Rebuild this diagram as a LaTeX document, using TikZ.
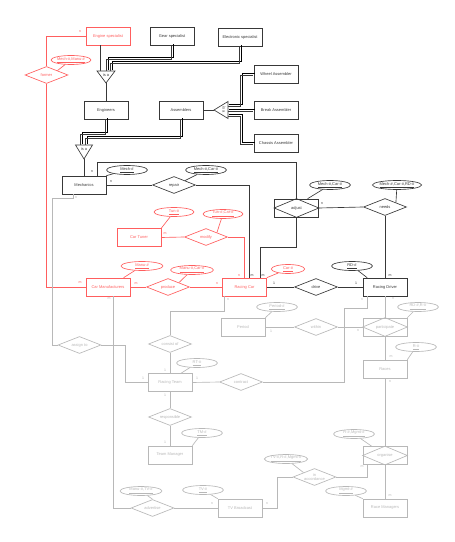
\documentclass[tikz,border=0pt]{standalone}
\usepackage{fontspec}
\setmainfont{Liberation Sans}
\usepackage{tikz}
\usetikzlibrary{shapes.geometric, calc}
\usepackage{xcolor}
\definecolor{errose}{HTML}{FF5E5E}
\definecolor{erink}{HTML}{383838}
\definecolor{erfog}{HTML}{B8B8B8}

\begin{document}
\begin{tikzpicture}[x=0.03cm, y=-0.03cm, line width=0.55pt,
    font=\fontsize{3.4}{4}\selectfont,
    ent/.style={draw, rectangle, fill=white, minimum width=1.32cm, minimum height=0.54cm, inner sep=0pt},
    rel/.style={draw, diamond, aspect=2.5, fill=white, minimum width=1.29cm, minimum height=0.51cm, inner sep=0pt},
    att/.style={draw, ellipse, fill=white, minimum width=1.23cm, minimum height=0.27cm, inner sep=0pt},
    card/.style={font=\fontsize{3}{3}\selectfont, inner sep=0pt},
    dbl/.style={line width=0.45pt,
        preaction={draw, transform canvas={shift={(0.8pt,0.8pt)}}},
        transform canvas={shift={(-0.8pt,-0.8pt)}}},
    hot/.style={draw=errose, text=errose},
    ink/.style={draw=erink, text=erink},
    fog/.style={draw=erfog, text=erfog},
    hotk/.style={card, text=errose},
    inkk/.style={card, text=erink},
    fogk/.style={card, text=erfog}]

    \fill[white] (0,0) rectangle (454,542);
    \useasboundingbox (0,0) rectangle (454,542);

    % specialisation of engineers and assemblers
    \node[ent, hot] (engsp) at (108,36) {Engine specialist};
    \node[ent, ink] (gearsp) at (172,36) {Gear specialist};
    \node[ent, ink] (elecsp) at (240,37) {Electronic specialist};
    \node[ent, ink] (engrs) at (106,110) {Engineers};
    \node[ent, ink] (asm) at (181,110) {Assemblers};
    \node[ent, ink] (wheel) at (276,74.5) {Wheel Assembler};
    \node[ent, ink] (brk) at (276,110) {Break Assembler};
    \node[ent, ink] (chas) at (276,143) {Chassis Assembler};

    \coordinate (isa1) at (106,71);
    \coordinate (isa2) at (228,110);
    \coordinate (isa3) at (84,145);

    \draw[ink] ($(engsp.south)+(-8,0)$) -- ++(0,26);
    \draw[ink, dbl] (gearsp.south) -- ++(0,13) -| ($(isa1)+(1,0)$);
    \draw[ink, dbl] (elecsp.south) -- ++(0,16) -| ($(isa1)+(5,0)$);
    \draw[ink] ($(isa1)+(0,12)$) -- (engrs.north);
    \draw[ink] (asm.east) -- ($(isa2)+(-14,0)$);
    \draw[ink, dbl] ($(isa2)+(0,-5)$) -- ++(13,0) |- (wheel.west);
    \draw[ink, dbl] (isa2) -- (brk.west);
    \draw[ink, dbl] ($(isa2)+(0,5)$) -- ++(13,0) |- (chas.west);
    \draw[ink, dbl] (engrs.south) -- ++(0,14) -| ($(isa3)+(-2.5,0)$);
    \draw[ink, dbl] (asm.south) -- ++(0,18) -| ($(isa3)+(2.5,0)$);

    \draw[ink, fill=white] ($(isa1)+(-9,0)$) -- ($(isa1)+(9,0)$) -- ($(isa1)+(0,12)$) -- cycle;
    \node[text=erink] (isa1t) at ($(isa1)+(0,4)$) {is a};
    \draw[ink, fill=white] ($(isa2)+(0,-8.5)$) -- ($(isa2)+(0,8.5)$) -- ($(isa2)+(-14,0)$) -- cycle;
    \node[text=erink, rotate=-90] (isa2t) at ($(isa2)+(-4,0)$) {is a};
    \draw[ink, fill=white] ($(isa3)+(-8.5,0)$) -- ($(isa3)+(8.5,0)$) -- ($(isa3)+(0,14)$) -- cycle;
    \node[text=erink] (isa3t) at ($(isa3)+(0,4)$) {is a};

    % mechanics and drivers
    \node[ent, ink] (mech) at (84,185) {Mechanics};
    \node[att, ink] (mechid) at (127,170) {\underline{Mech-\#}};
    \node[rel, ink] (repair) at (174,185) {repair};
    \node[att, ink] (repairid) at (206,170) {\underline{Mech-\#,Car-\#}};
    \node[ent, ink] (adj) at (296.5,208) {adjust};
    \draw[ink] (adj.west) -- (adj.north) -- (adj.east) -- (adj.south) -- cycle;
    \node[att, ink] (adjid) at (330,185) {\underline{Mech-\#,Car-\#}};
    \node[rel, ink] (needs) at (385,207) {needs};
    \node[att, ink, minimum width=1.41cm] (needsid) at (397,185) {\underline{Mech-\#,Car-\#,RD-\#}};
    \node[ent, ink] (rd) at (385,287) {Racing Driver};
    \node[att, ink] (rdid) at (352,266) {\underline{RD-\#}};
    \node[rel, ink] (drive) at (316,287) {drive};

    % cars
    \node[rel, hot] (former) at (46.5,75) {former};
    \node[att, hot, minimum width=1.2cm] (formerid) at (71,60) {\underline{Mech-\#,Manu-\#}};
    \node[ent, hot] (tuner) at (139,237.5) {Car Tuner};
    \node[att, hot, minimum width=1.2cm] (tunid) at (174,212) {\underline{Tun-\#}};
    \node[rel, hot] (modify) at (206,237) {modify};
    \node[att, hot, minimum width=1.2cm] (modid) at (223,214) {\underline{Tun-\#,Car-\#}};
    \node[ent, hot] (carman) at (108,287) {Car Manufacturers};
    \node[att, hot, minimum width=1.26cm] (manuid) at (142,266) {\underline{Manu-\#}};
    \node[rel, hot] (produce) at (168,287) {produce};
    \node[att, hot, minimum width=1.29cm] (prodid) at (192,270) {\underline{Manu-\#,Car-\#}};
    \node[ent, hot] (rc) at (244.5,287) {Racing Car};
    \node[att, hot, minimum width=1cm] (carid) at (288,269) {\underline{Car-\#}};

    % teams, races and broadcast
    \node[rel, fog] (assign) at (79.5,345) {assign to};
    \node[rel, fog] (consist) at (170,344) {consist of};
    \node[ent, fog] (rt) at (170,382.5) {Racing Team};
    \node[att, fog] (rtid) at (197,363) {\underline{RT-\#}};
    \node[rel, fog] (contract) at (241,382) {contract};
    \node[rel, fog] (resp) at (170,417) {responsible};
    \node[ent, fog] (tm) at (170,455) {Team Manager};
    \node[att, fog] (tmid) at (202,433) {\underline{TM-\#}};
    \node[ent, fog] (period) at (243,327) {Period};
    \node[att, fog] (periodid) at (277,307) {\underline{Period-\#}};
    \node[rel, fog] (within) at (316,327) {within};
    \node[ent, fog] (part) at (385,327) {participate};
    \draw[fog] (part.west) -- (part.north) -- (part.east) -- (part.south) -- cycle;
    \node[att, fog] (partid) at (418,307) {\underline{RD-\#,R-\#}};
    \node[ent, fog] (races) at (385,369) {Races};
    \node[att, fog] (raceid) at (416,347) {\underline{R-\#}};
    \node[ent, fog] (org) at (385,455.5) {organise};
    \draw[fog] (org.west) -- (org.north) -- (org.east) -- (org.south) -- cycle;
    \node[att, fog] (orgid) at (354,434) {\underline{R-\#,Mgmt-\#}};
    \node[ent, fog] (rm) at (385,508) {Race Managers};
    \node[att, fog] (rmid) at (346,491) {\underline{Mgmt-\#}};
    \node[rel, fog, align=center] (acc) at (314.5,477) {in\\accordance};
    \node[att, fog, minimum width=1.2cm] (accid) at (286,459) {\underline{TV-\#,R-\#,Mgmt-\#}};
    \node[ent, fog] (tv) at (240,508) {TV Broadcast};
    \node[att, fog] (tvid) at (203,490) {\underline{TV-\#}};
    \node[rel, fog] (adv) at (152.5,508) {advertise};
    \node[att, fog, minimum width=1.26cm] (advid) at (141,491) {\underline{Manu-\#,TV-\#}};

    % black connectors
    \draw[ink] ($(isa3)+(0,14)$) -- (mech.north);
    \draw[ink] ($(mech.north)+(13,0)$) -- ++(0,-13) -| (adj.north);
    \draw[ink] (mech.east) -- (repair.west);
    \draw[ink] (repair.east) -| ($(rc.north)+(5,0)$);
    \draw[ink] (adj.south) -- ++(0,30) -| ($(rc.north)+(15.5,0)$);
    \draw[ink] (adj.east) -- (needs.west);
    \draw[ink] (needs.south) -- (rd.north);
    \draw[ink] (rc.east) -- (drive.west);
    \draw[ink] (drive.east) -- (rd.west);
    \draw[ink] (mechid) -- (mech.north east);
    \draw[ink] (repairid) -- (repair.north east);
    \draw[ink] (adjid) -- ($(adj.north)!0.5!(adj.north east)$);
    \draw[ink] (needsid) -- (needs.north east);
    \draw[ink] (rdid) -- ($(rd.north west)!0.1!(rd.north east)$);

    % red connectors
    \draw[hot] (engsp.west) -| (former.north);
    \draw[hot] (former.south) |- (carman.west);
    \draw[hot] (formerid) -- (former.north east);
    \draw[hot] (tuner.east) -- (modify.west);
    \draw[hot] (modify.east) -| (rc.north);
    \draw[hot] (carman.east) -- (produce.west);
    \draw[hot] (produce.east) -- (rc.west);
    \draw[hot] (tunid) -- (tuner.north east);
    \draw[hot] (modid) -- (modify.north east);
    \draw[hot] (manuid) -- ($(carman.north)!0.7!(carman.north east)$);
    \draw[hot] (prodid) -- (produce.north east);
    \draw[hot] (carid) -- (rc.north east);

    % gray connectors
    \draw[fog] ($(mech.south)+(-11,0)$) -- ++(0,4) -| ($(assign.west)+(-5,0)$) -- (assign.west);
    \draw[fog] (assign.east) -- ++(24,0) |- (rt.west);
    \draw[fog] ($(carman.south)+(5,0)$) |- (adv.west);
    \draw[fog] ($(rc.south)+(-20,0)$) -- ++(0,15) -| (consist.north);
    \draw[fog] (consist.south) -- (rt.north);
    \draw[fog] (rt.east) -- (contract.west);
    \draw[fog] (contract.east) -| ($(rd.south)+(-41,12)$) -| ($(rd.south)+(-18,0)$);
    \draw[fog] (rd.south) -- (part.north);
    \draw[fog] (period.east) -- (within.west);
    \draw[fog] (within.east) -- (part.west);
    \draw[fog] (part.south) -- (races.north);
    \draw[fog] (races.south) -- (org.north);
    \draw[fog] (org.south) -- (rm.north);
    \draw[fog] (rt.south) -- (resp.north);
    \draw[fog] (resp.south) -- (tm.north);
    \draw[fog] (adv.east) -- (tv.west);
    \draw[fog] (tv.east) -- ++(15,0) |- (acc.west);
    \draw[fog] (acc.east) -| ($(org.south)+(-18,0)$);
    \draw[fog] (rtid) -- ($(rt.north)!0.5!(rt.north east)$);
    \draw[fog] (tmid) -- (tm.north east);
    \draw[fog] (periodid) -- (period.north east);
    \draw[fog] (partid) -- (part.north east);
    \draw[fog] (raceid) -- (races.north east);
    \draw[fog] (orgid) -- ($(org.north west)!0.2!(org.north east)$);
    \draw[fog] (rmid) -- (rm.north west);
    \draw[fog] (accid) -- (acc.north west);
    \draw[fog] (tvid) -- (tv.north west);
    \draw[fog] (advid) -- (adv.north);

    % cardinalities
    \node[hotk] (kEngsp) at (80,32) {n};
    \node[hotk] (kFormer) at (80,283) {m};
    \node[hotk] (kTuner) at (165,234) {m};
    \node[hotk] (kModify) at (239,276) {n};
    \node[hotk] (kCarman) at (136,284) {m};
    \node[hotk] (kProduce) at (217,284) {n};
    \node[inkk] (kMechUp) at (92,172) {n};
    \node[inkk] (kMechR) at (111,182) {n};
    \node[inkk] (kRepair) at (252,276) {m};
    \node[inkk] (kAdjust) at (263,276) {m};
    \node[inkk] (kDriveL) at (274,283) {1};
    \node[inkk] (kDriveR) at (356,283) {1};
    \node[inkk] (kAdjR) at (322,204) {n};
    \node[inkk] (kNeeds) at (390,276) {m};
    \node[fogk] (kMechD) at (76,198) {n};
    \node[fogk] (kCarmanD) at (109,299) {m};
    \node[fogk] (kRcD) at (228,300) {n};
    \node[fogk] (kRtUp) at (165,370) {1};
    \node[fogk] (kRtL) at (143,378) {1};
    \node[fogk] (kRtR) at (197,378) {1};
    \node[fogk] (kRtD) at (165,395) {1};
    \node[fogk] (kTm) at (165,442) {1};
    \node[fogk] (kContract) at (362,300) {n};
    \node[fogk] (kPartUp) at (393,299) {n};
    \node[fogk] (kPeriod) at (271,331) {1};
    \node[fogk] (kWithin) at (358,331) {n};
    \node[fogk] (kRacesUp) at (391,357) {m};
    \node[fogk] (kRacesD) at (390,382) {n};
    \node[fogk] (kOrg) at (362,467) {m};
    \node[fogk] (kRm) at (390,496) {m};
    \node[fogk] (kAdv) at (212,504) {n};
    \node[fogk] (kTv) at (267,504) {n};
\end{tikzpicture}
\end{document}
